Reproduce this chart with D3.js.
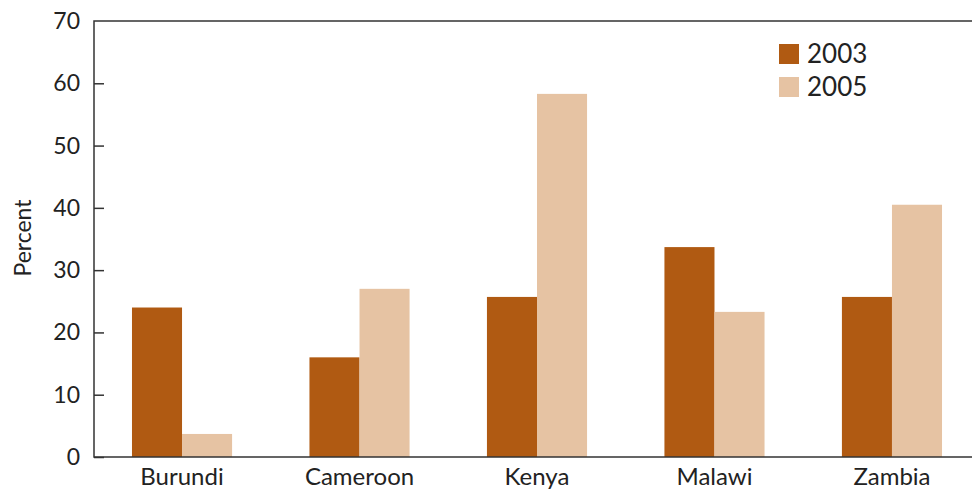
<!DOCTYPE html>
<html>
<head>
<meta charset="utf-8">
<script src="https://cdn.jsdelivr.net/npm/d3@7"></script>
<style>
  html, body { margin: 0; padding: 0; background: #fff; }
  svg { display: block; font-family: Lato, "Open Sans", sans-serif; }
</style>
</head>
<body>
<svg id="chart" width="972" height="491"></svg>
<script>
// Countries and survey-year series (percent)
const countries = ["Burundi", "Cameroon", "Kenya", "Malawi", "Zambia"];
const years = ["2003", "2005"];
const values2003 = [24.0, 16.0, 25.7, 33.7, 25.7];
const values2005 = [3.7, 27.0, 58.3, 23.3, 40.5];
const yTicks = [0, 10, 20, 30, 40, 50, 60, 70];
const colors = ["#B05A12", "#E6C3A3"];

const series = [values2003, values2005];
const rows = countries.map((c, i) => ({ country: c, vals: series.map(s => s[i]) }));

const svg = d3.select("#chart");
const plotLeft = 94, plotTop = 21, plotBottom = 457, plotRight = 972;

const x = d3.scaleBand()
  .domain(countries)
  .range([plotLeft, 980])
  .paddingInner(0.436)
  .paddingOuter(0.214);

const xs = d3.scaleBand()
  .domain(years)
  .range([0, x.bandwidth()]);

const y = d3.scaleLinear().domain([0, 70]).range([plotBottom, plotTop]);

// bars
const g = svg.append("g");
const groups = g.selectAll("g.grp").data(rows).join("g")
  .attr("transform", d => `translate(${x(d.country)},0)`);
groups.selectAll("rect").data(d => d.vals.map((v, k) => ({ v, k })))
  .join("rect")
  .attr("x", d => xs(years[d.k]))
  .attr("width", xs.bandwidth())
  .attr("y", d => y(d.v))
  .attr("height", d => y(0) - y(d.v))
  .attr("fill", d => colors[d.k]);

// y axis with inward ticks
const yAxis = d3.axisRight(y).tickValues(yTicks.slice(0, -1)).tickSize(10).tickFormat("");
const ya = svg.append("g").attr("transform", `translate(${plotLeft},0)`).call(yAxis);
ya.select(".domain").remove();
ya.selectAll(".tick line").attr("stroke", "#333").attr("stroke-width", 1.5);

svg.append("g").selectAll("text").data(yTicks).join("text")
  .attr("x", plotLeft - 14)
  .attr("y", d => y(d))
  .attr("dy", "0.35em")
  .attr("text-anchor", "end")
  .attr("font-size", 23)
  .attr("fill", "#222")
  .text(d => d);

// frame lines: left, top, bottom
svg.append("path")
  .attr("d", `M${plotRight},${plotTop}H${plotLeft}V${plotBottom}H${plotRight}`)
  .attr("fill", "none")
  .attr("stroke", "#333")
  .attr("stroke-width", 1.5);

// x category labels
const xAxis = d3.axisBottom(x).tickSize(0).tickPadding(0);
const xa = svg.append("g").attr("transform", `translate(0,${plotBottom})`).call(xAxis);
xa.select(".domain").remove();
xa.selectAll("text")
  .attr("font-family", "Lato, 'Open Sans', sans-serif")
  .attr("font-size", 24)
  .attr("fill", "#222")
  .attr("dy", null)
  .attr("y", 28);

// y title
svg.append("text")
  .attr("transform", `translate(31,238) rotate(-90)`)
  .attr("text-anchor", "middle")
  .attr("font-size", 23)
  .attr("fill", "#222")
  .text("Percent");

// legend
const lg = svg.append("g").attr("transform", "translate(779,44)");
years.forEach((yr, k) => {
  const row = lg.append("g").attr("transform", `translate(0,${k * 33})`);
  row.append("rect").attr("width", 20).attr("height", 20).attr("fill", colors[k]);
  row.append("text").attr("x", 28).attr("y", 10).attr("dy", "0.36em")
    .attr("font-size", 26).attr("fill", "#222").text(yr);
});
</script>
</body>
</html>
